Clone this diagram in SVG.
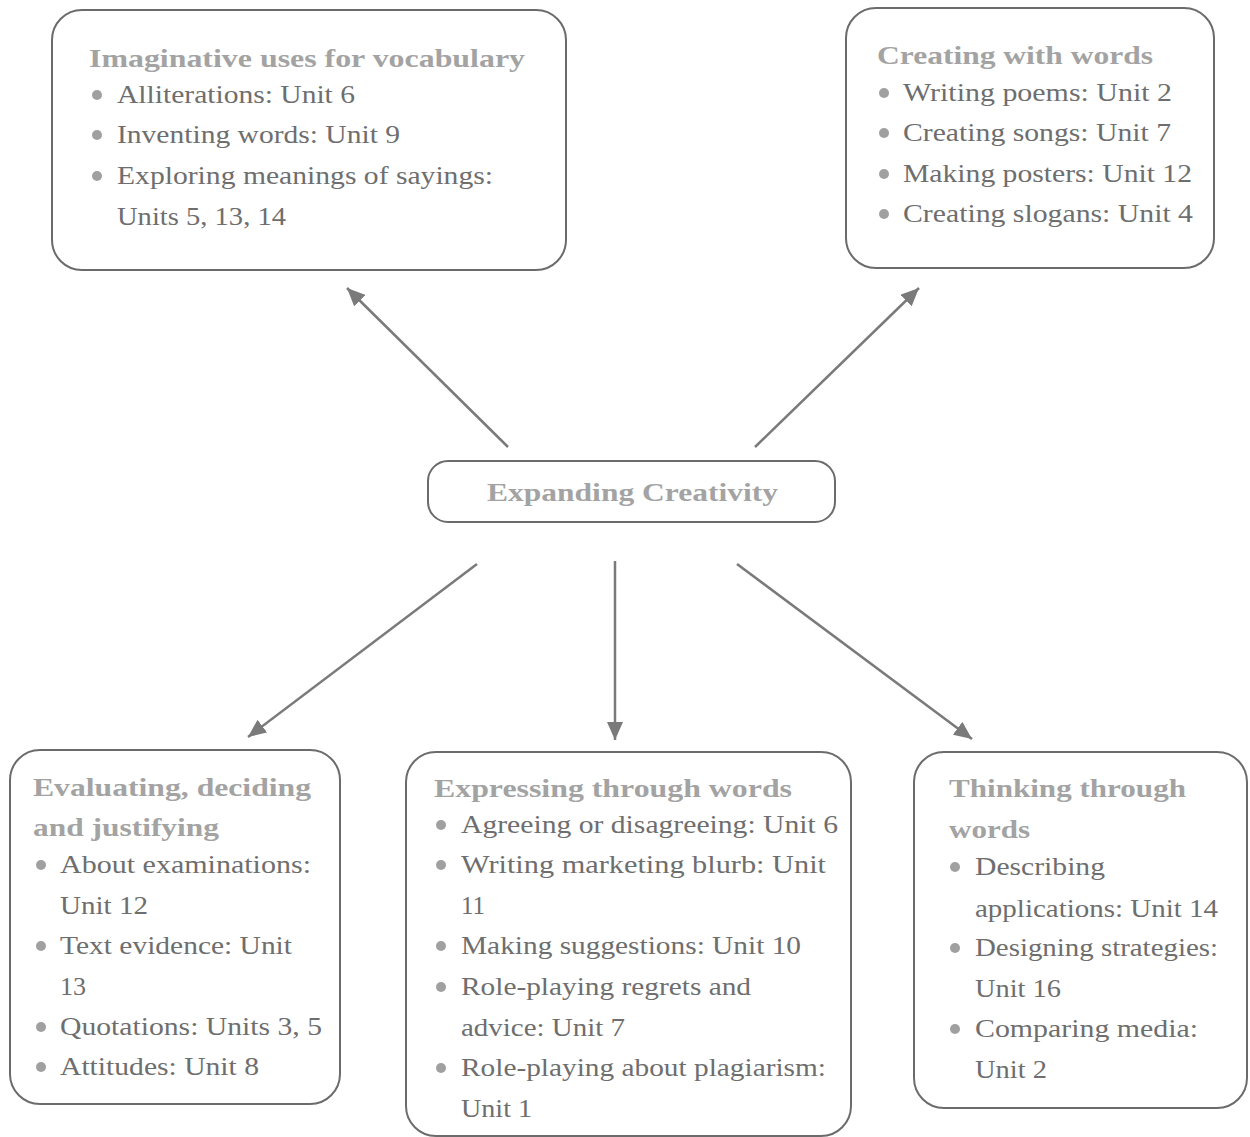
<svg xmlns="http://www.w3.org/2000/svg" width="1250" height="1137" viewBox="0 0 1250 1137">
<defs>
<style>
.box{fill:#fff;stroke:#6b6b6b;stroke-width:2}
.h{font-family:'Liberation Serif','Times New Roman',serif;font-weight:bold;font-size:25px;fill:#a3a3a3}
.t{font-family:'Liberation Serif','Times New Roman',serif;font-size:25px;fill:#6e6e6e}
.b{fill:#a0a0a0}
.c{stroke:#7a7a7a;stroke-width:2.5;fill:none;marker-end:url(#ah)}
</style>
<marker id="ah" markerUnits="userSpaceOnUse" markerWidth="20" markerHeight="16" refX="18" refY="8" orient="auto">
<path d="M0,0 L18,8 L0,16 Z" fill="#7a7a7a"/>
</marker>
</defs>
<rect width="1250" height="1137" fill="#fff"/>
<g id="connectors">
<line class="c" x1="508" y1="447" x2="347" y2="288"/>
<line class="c" x1="755" y1="447" x2="919" y2="288"/>
<line class="c" x1="477" y1="564" x2="248" y2="737"/>
<line class="c" x1="615" y1="561" x2="615" y2="740"/>
<line class="c" x1="737" y1="564" x2="972" y2="739"/>
</g>
<g id="center">
<rect class="box" x="428" y="461" width="407" height="61" rx="20"/>
<text class="h" x="487" y="501" textLength="291" lengthAdjust="spacingAndGlyphs">Expanding Creativity</text>
</g>
<g id="imaginative">
<rect class="box" x="52" y="10" width="514" height="260" rx="30"/>
<text class="h" x="89" y="67" textLength="436" lengthAdjust="spacingAndGlyphs">Imaginative uses for vocabulary</text>
<circle class="b" cx="97" cy="95" r="5"/>
<text class="t" x="117" y="103" textLength="238" lengthAdjust="spacingAndGlyphs">Alliterations: Unit 6</text>
<circle class="b" cx="97" cy="135" r="5"/>
<text class="t" x="117" y="143" textLength="283" lengthAdjust="spacingAndGlyphs">Inventing words: Unit 9</text>
<circle class="b" cx="97" cy="176" r="5"/>
<text class="t" x="117" y="184" textLength="376" lengthAdjust="spacingAndGlyphs">Exploring meanings of sayings:</text>
<text class="t" x="117" y="225" textLength="169" lengthAdjust="spacingAndGlyphs">Units 5, 13, 14</text>
</g>
<g id="creating">
<rect class="box" x="846" y="8" width="368" height="260" rx="30"/>
<text class="h" x="877" y="64" textLength="276" lengthAdjust="spacingAndGlyphs">Creating with words</text>
<circle class="b" cx="884" cy="93" r="5"/>
<text class="t" x="903" y="101" textLength="269" lengthAdjust="spacingAndGlyphs">Writing poems: Unit 2</text>
<circle class="b" cx="884" cy="133" r="5"/>
<text class="t" x="903" y="141" textLength="268" lengthAdjust="spacingAndGlyphs">Creating songs: Unit 7</text>
<circle class="b" cx="884" cy="174" r="5"/>
<text class="t" x="903" y="182" textLength="289" lengthAdjust="spacingAndGlyphs">Making posters: Unit 12</text>
<circle class="b" cx="884" cy="214" r="5"/>
<text class="t" x="903" y="222" textLength="290" lengthAdjust="spacingAndGlyphs">Creating slogans: Unit 4</text>
</g>
<g id="evaluating">
<rect class="box" x="10" y="750" width="330" height="354" rx="30"/>
<text class="h" x="33" y="796" textLength="278" lengthAdjust="spacingAndGlyphs">Evaluating, deciding</text>
<text class="h" x="33" y="836" textLength="186" lengthAdjust="spacingAndGlyphs">and justifying</text>
<circle class="b" cx="41" cy="865" r="5"/>
<text class="t" x="60" y="873" textLength="251" lengthAdjust="spacingAndGlyphs">About examinations:</text>
<text class="t" x="60" y="914" textLength="88" lengthAdjust="spacingAndGlyphs">Unit 12</text>
<circle class="b" cx="41" cy="946" r="5"/>
<text class="t" x="60" y="954" textLength="232" lengthAdjust="spacingAndGlyphs">Text evidence: Unit</text>
<text class="t" x="60" y="995" textLength="26" lengthAdjust="spacingAndGlyphs">13</text>
<circle class="b" cx="41" cy="1027" r="5"/>
<text class="t" x="60" y="1035" textLength="262" lengthAdjust="spacingAndGlyphs">Quotations: Units 3, 5</text>
<circle class="b" cx="41" cy="1067" r="5"/>
<text class="t" x="60" y="1075" textLength="199" lengthAdjust="spacingAndGlyphs">Attitudes: Unit 8</text>
</g>
<g id="expressing">
<rect class="box" x="406" y="752" width="445" height="384" rx="30"/>
<text class="h" x="434" y="797" textLength="358" lengthAdjust="spacingAndGlyphs">Expressing through words</text>
<circle class="b" cx="441" cy="825" r="5"/>
<text class="t" x="461" y="833" textLength="377" lengthAdjust="spacingAndGlyphs">Agreeing or disagreeing: Unit 6</text>
<circle class="b" cx="441" cy="865" r="5"/>
<text class="t" x="461" y="873" textLength="365" lengthAdjust="spacingAndGlyphs">Writing marketing blurb: Unit</text>
<text class="t" x="461" y="914" textLength="24" lengthAdjust="spacingAndGlyphs">11</text>
<circle class="b" cx="441" cy="946" r="5"/>
<text class="t" x="461" y="954" textLength="340" lengthAdjust="spacingAndGlyphs">Making suggestions: Unit 10</text>
<circle class="b" cx="441" cy="987" r="5"/>
<text class="t" x="461" y="995" textLength="290" lengthAdjust="spacingAndGlyphs">Role-playing regrets and</text>
<text class="t" x="461" y="1036" textLength="164" lengthAdjust="spacingAndGlyphs">advice: Unit 7</text>
<circle class="b" cx="441" cy="1068" r="5"/>
<text class="t" x="461" y="1076" textLength="365" lengthAdjust="spacingAndGlyphs">Role-playing about plagiarism:</text>
<text class="t" x="461" y="1117" textLength="71" lengthAdjust="spacingAndGlyphs">Unit 1</text>
</g>
<g id="thinking">
<rect class="box" x="914" y="752" width="333" height="356" rx="30"/>
<text class="h" x="949" y="797" textLength="237" lengthAdjust="spacingAndGlyphs">Thinking through</text>
<text class="h" x="949" y="838" textLength="81" lengthAdjust="spacingAndGlyphs">words</text>
<circle class="b" cx="955" cy="867" r="5"/>
<text class="t" x="975" y="875" textLength="130" lengthAdjust="spacingAndGlyphs">Describing</text>
<text class="t" x="975" y="917" textLength="243" lengthAdjust="spacingAndGlyphs">applications: Unit 14</text>
<circle class="b" cx="955" cy="948" r="5"/>
<text class="t" x="975" y="956" textLength="243" lengthAdjust="spacingAndGlyphs">Designing strategies:</text>
<text class="t" x="975" y="997" textLength="86" lengthAdjust="spacingAndGlyphs">Unit 16</text>
<circle class="b" cx="955" cy="1029" r="5"/>
<text class="t" x="975" y="1037" textLength="223" lengthAdjust="spacingAndGlyphs">Comparing media:</text>
<text class="t" x="975" y="1078" textLength="72" lengthAdjust="spacingAndGlyphs">Unit 2</text>
</g>
</svg>
